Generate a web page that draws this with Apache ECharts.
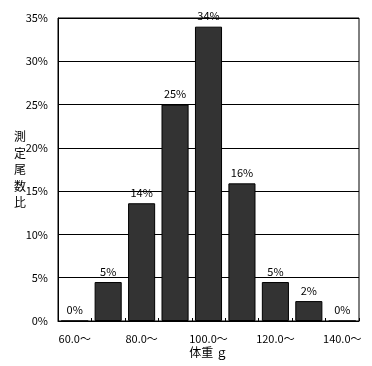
<!DOCTYPE html>
<html>
<head>
<meta charset="utf-8">
<script src="https://cdn.jsdelivr.net/npm/echarts@6/dist/echarts.min.js"></script>
<style>html,body{margin:0;padding:0;background:#fff;}#c{width:372px;height:366px;}</style>
</head>
<body>
<div id="c"></div>
<script>
var categories = ['60.0〜','70.0〜','80.0〜','90.0〜','100.0〜','110.0〜','120.0〜','130.0〜','140.0〜'];
var values = [0, 4.5, 13.6, 25, 34, 15.9, 4.5, 2.3, 0];
var valueLabels = ['0%','5%','14%','25%','34%','16%','5%','2%','0%'];
var xTitle = '体重 ｇ';
var yTitle = '測定尾数比';

var FONT = '"Noto Sans CJK JP", sans-serif';
var chart = echarts.init(document.getElementById('c'));
chart.setOption({
  animation: false,
  grid: {left: 58, top: 18, right: 13, bottom: 45, show: true, borderColor: '#000', borderWidth: 1},
  xAxis: {
    type: 'category',
    data: categories,
    name: xTitle,
    nameLocation: 'middle',
    nameGap: 25,
    nameMoveOverlap: false,
    nameTextStyle: {color: '#000', fontSize: 12, fontFamily: FONT},
    axisLine: {lineStyle: {color: '#000', width: 1}},
    axisTick: {show: true, inside: true, length: 3, interval: 0, lineStyle: {color: '#000'}},
    axisLabel: {interval: 1, color: '#000', fontSize: 11, fontFamily: FONT, margin: 12},
    splitLine: {show: false}
  },
  yAxis: {
    type: 'value',
    min: 0, max: 35, interval: 5,
    name: yTitle.split('').join('\n'),
    nameLocation: 'middle',
    nameRotate: 0,
    nameGap: 38,
    nameMoveOverlap: false,
    nameTextStyle: {color: '#000', fontSize: 12, fontFamily: FONT, lineHeight: 16.5, align: 'center', padding: [10, 0, 0, 0]},
    axisLine: {show: true, lineStyle: {color: '#000', width: 1}},
    axisTick: {show: false},
    axisLabel: {color: '#000', fontSize: 11, fontFamily: FONT, margin: 10, formatter: '{value}%'},
    splitLine: {show: true, lineStyle: {color: '#000', width: 1}}
  },
  series: [{
    type: 'bar',
    data: values,
    barCategoryGap: '19%',
    itemStyle: {color: '#333333', borderColor: '#000', borderWidth: 1},
    label: {
      show: true, position: 'top', distance: 5,
      color: '#000', fontSize: 11, fontFamily: FONT,
      formatter: function (p) { return valueLabels[p.dataIndex]; }
    }
  }]
});
</script>
</body>
</html>
